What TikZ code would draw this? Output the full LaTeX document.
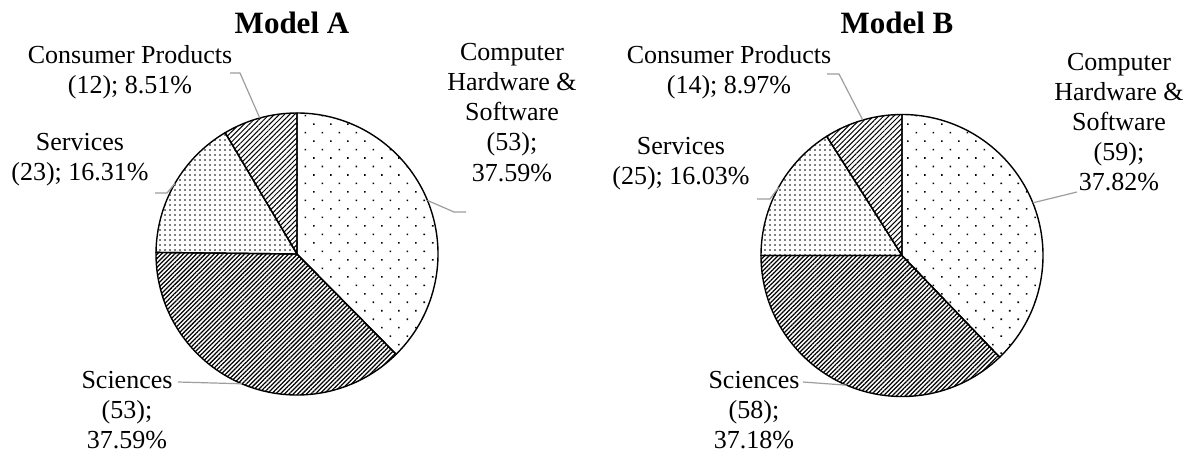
\documentclass[tikz,border=0pt]{standalone}
\usepackage{fontspec}
\setmainfont{Liberation Serif}
\usetikzlibrary{patterns.meta}

\tikzset{
  wedge/.style={draw=black, line width=1.4pt, line join=round},
  chs/.style={pattern={Dots[angle=45, distance=12pt, radius=1.1pt]}},
  sci/.style={pattern={Lines[angle=45, distance=3.1pt, line width=1.25pt]}},
  srv/.style={pattern={Dots[angle=0, distance=5pt, radius=0.95pt]}},
  cons/.style={pattern={Lines[angle=45, distance=3.6pt, line width=1pt]}},
  leader/.style={draw=black!38, line width=1.2pt, line join=round},
  lbl/.style={anchor=base, inner sep=0pt, font=\fontsize{26}{30}\selectfont},
  ttl/.style={anchor=base, inner sep=0pt, font=\fontsize{31}{36}\selectfont\bfseries},
}

% one pie wedge: centre, start angle, end angle (counter-clockwise degrees), fill style
\newcommand\drawwedge[4]{%
  \path[wedge,#4] (#1) -- ++({-(#2)}:141)
    arc[start angle={-(#2)}, end angle={-(#3)}, radius=141] -- cycle;}

\begin{document}
\begin{tikzpicture}[x=1pt, y=-1pt]
\useasboundingbox (0,0) rectangle (1192,455);
\fill[white] (0,0) rectangle (1192,455);

% ---------------- Model A ----------------
\coordinate (ca) at (297,254);
\drawwedge{ca}{90}{-45.32}{chs}
\drawwedge{ca}{-45.32}{-180.65}{sci}
\drawwedge{ca}{-180.65}{-239.36}{srv}
\drawwedge{ca}{-239.36}{-270}{cons}

\node[ttl] (ta) at (292,33) {Model A};

\node[lbl] (a-cons1) at (130,63) {Consumer Products};
\node[lbl] (a-cons2) at (130,93) {(12); 8.51\%};

\node[lbl] (a-srv1) at (80,150) {Services};
\node[lbl] (a-srv2) at (80,180) {(23); 16.31\%};

\node[lbl] (a-chs1) at (512,60) {Computer};
\node[lbl] (a-chs2) at (512,90) {Hardware \&};
\node[lbl] (a-chs3) at (512,120) {Software};
\node[lbl] (a-chs4) at (512,150) {(53);};
\node[lbl] (a-chs5) at (512,181) {37.59\%};

\node[lbl] (a-sci1) at (127,388) {Sciences};
\node[lbl] (a-sci2) at (127,418) {(53);};
\node[lbl] (a-sci3) at (127,448) {37.59\%};

\coordinate (a-cons-tip) at ([shift={(-105.32:141)}]ca);
\coordinate (a-srv-tip)  at ([shift={(-150.00:141)}]ca);
\coordinate (a-sci-tip)  at ([shift={(113.00:141)}]ca);
\coordinate (a-chs-tip)  at ([shift={(-22.34:141)}]ca);
\coordinate (a-cons-a) at (230,73);  \coordinate (a-cons-b) at (240,73);
\coordinate (a-srv-a)  at (155,193); \coordinate (a-srv-b)  at (167,193);
\coordinate (a-sci-a)  at (178,382);
\coordinate (a-chs-a)  at (466,212); \coordinate (a-chs-b)  at (454,212);

\draw[leader] (a-cons-a) -- (a-cons-b) -- (a-cons-tip);
\draw[leader] (a-srv-a) -- (a-srv-b) -- (a-srv-tip);
\draw[leader] (a-sci-a) -- (a-sci-tip);
\draw[leader] (a-chs-a) -- (a-chs-b) -- (a-chs-tip);

% ---------------- Model B ----------------
\coordinate (cb) at (902,255.5);
\drawwedge{cb}{90}{-46.15}{chs}
\drawwedge{cb}{-46.15}{-180}{sci}
\drawwedge{cb}{-180}{-237.71}{srv}
\drawwedge{cb}{-237.71}{-270}{cons}

\node[ttl] (tb) at (897,33) {Model B};

\node[lbl] (b-cons1) at (729,63) {Consumer Products};
\node[lbl] (b-cons2) at (729,93) {(14); 8.97\%};

\node[lbl] (b-srv1) at (681,154) {Services};
\node[lbl] (b-srv2) at (681,184) {(25); 16.03\%};

\node[lbl] (b-chs1) at (1119,70) {Computer};
\node[lbl] (b-chs2) at (1119,100) {Hardware \&};
\node[lbl] (b-chs3) at (1119,130) {Software};
\node[lbl] (b-chs4) at (1119,160) {(59);};
\node[lbl] (b-chs5) at (1119,190) {37.82\%};

\node[lbl] (b-sci1) at (754,388) {Sciences};
\node[lbl] (b-sci2) at (754,418) {(58);};
\node[lbl] (b-sci3) at (754,448) {37.18\%};

\coordinate (b-cons-tip) at ([shift={(-106.15:141)}]cb);
\coordinate (b-srv-tip)  at ([shift={(-151.15:141)}]cb);
\coordinate (b-sci-tip)  at ([shift={(113.08:141)}]cb);
\coordinate (b-chs-tip)  at ([shift={(-21.93:141)}]cb);
\coordinate (b-cons-a) at (827,74);  \coordinate (b-cons-b) at (839,74);
\coordinate (b-srv-a)  at (757,199); \coordinate (b-srv-b)  at (770,199);
\coordinate (b-sci-a)  at (803,382);
\coordinate (b-chs-a)  at (1077,192);

\draw[leader] (b-cons-a) -- (b-cons-b) -- (b-cons-tip);
\draw[leader] (b-srv-a) -- (b-srv-b) -- (b-srv-tip);
\draw[leader] (b-sci-a) -- (b-sci-tip);
\draw[leader] (b-chs-a) -- (b-chs-tip);
\end{tikzpicture}
\end{document}
